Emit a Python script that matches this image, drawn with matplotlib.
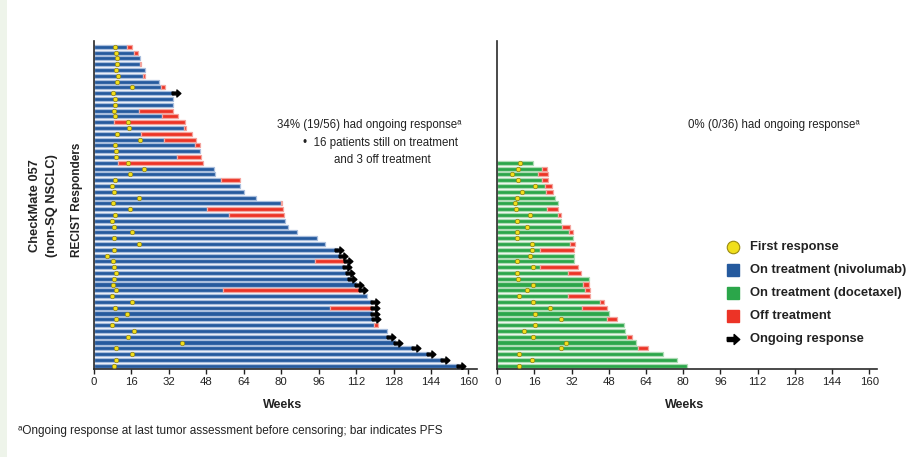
import matplotlib
matplotlib.use("Agg")
import matplotlib.pyplot as plt
from matplotlib.lines import Line2D
from matplotlib.patches import Rectangle

plt.rcParams["font.family"] = ["Liberation Sans", "DejaVu Sans"]

# Данные: ниволумаб (56 пациентов, сверху вниз)
nivo_on = [14.2, 17.1, 19.8, 19.6, 21.7, 20.8, 27.8, 28.8, 33.8, 33.6,
           33.6, 19.1, 29.1, 8.5, 38.5, 20.2, 29.9, 43.3, 45.4, 35.6,
           10.3, 51.3, 51.8, 54.3, 62.4, 64.1, 69.2, 79.9, 48.4, 57.8,
           81.6, 83.0, 86.6, 95.2, 98.9, 103.7, 105.1, 94.4, 106.8, 108.0,
           109.1, 112.0, 55.3, 116.5, 118.7, 100.9, 118.9, 119.4, 119.7, 125.1,
           125.8, 128.6, 136.5, 142.9, 148.6, 155.7]
nivo_end = [16.4, 18.8, 19.8, 20.0, 21.7, 22.0, 27.8, 30.4, 33.8, 33.6,
            33.6, 33.8, 35.9, 38.7, 39.4, 42.0, 43.7, 45.2, 45.4, 45.6,
            46.6, 51.3, 51.8, 62.4, 62.4, 64.1, 69.2, 80.5, 80.6, 81.2,
            81.6, 83.0, 86.6, 95.2, 98.9, 103.7, 105.1, 107.3, 106.8, 108.0,
            109.1, 112.0, 113.7, 116.5, 118.7, 118.7, 118.9, 119.4, 121.5, 125.1,
            125.8, 128.6, 136.5, 142.9, 148.6, 155.7]
nivo_first = [9.1, 9.4, 9.8, 9.8, 9.4, 10.3, 9.8, 16.2, 8.3, 9.1,
              9.1, 8.5, 8.8, 14.5, 15.1, 9.7, 19.5, 9.1, 9.4, 9.4,
              14.5, 21.2, 15.5, 9.0, 7.8, 8.7, 19.4, 8.3, 15.4, 9.1,
              7.8, 8.5, 16.4, 8.5, 19.1, 8.5, 5.4, 8.0, 8.5, 9.4,
              8.5, 8.3, 9.4, 7.5, 16.1, 9.0, 14.2, 9.4, 7.5, 17.1,
              14.7, 37.7, 9.4, 16.1, 9.4, 8.5]
nivo_ongoing = [0, 0, 0, 0, 0, 0, 0, 0, 1, 0,
                0, 0, 0, 0, 0, 0, 0, 0, 0, 0,
                0, 0, 0, 0, 0, 0, 0, 0, 0, 0,
                0, 0, 0, 0, 0, 1, 1, 1, 1, 1,
                1, 1, 1, 0, 1, 1, 1, 1, 0, 0,
                1, 1, 1, 1, 1, 1]

# Данные: доцетаксел (36 пациентов, сверху вниз)
doce_on = [15.2, 19.1, 17.3, 19.1, 20.5, 20.9, 24.8, 25.9, 21.2, 26.2,
           27.4, 27.7, 30.8, 32.7, 31.3, 18.4, 33.1, 33.1, 18.4, 30.5,
           39.4, 37.0, 37.7, 30.5, 44.2, 36.3, 48.0, 47.0, 54.6, 54.9,
           55.6, 59.6, 60.6, 71.4, 77.1, 81.6]
doce_end = [15.2, 21.2, 21.6, 21.9, 23.4, 24.1, 24.8, 25.9, 26.2, 27.4,
            27.4, 31.3, 32.4, 32.7, 33.4, 33.0, 33.1, 33.1, 34.6, 35.8,
            39.4, 39.6, 39.9, 39.9, 45.9, 47.0, 48.0, 51.3, 54.6, 54.9,
            57.8, 59.6, 64.7, 71.4, 77.1, 81.6]
doce_first = [9.7, 9.0, 6.2, 9.0, 16.2, 10.8, 8.3, 7.6, 7.9, 14.1,
              8.6, 12.6, 8.3, 8.3, 14.8, 14.8, 14.1, 8.6, 15.5, 8.3,
              9.0, 15.2, 12.6, 9.3, 15.5, 22.7, 16.2, 27.2, 16.2, 11.5,
              15.5, 29.5, 27.2, 9.3, 14.8, 9.3]

week_ticks = list(range(0, 161, 16))

BLUE = "#255a9e"
BLUE_EDGE = "#a9bedd"
GREEN = "#2ba64a"
GREEN_EDGE = "#aedcb5"
RED = "#ec3326"
RED_EDGE = "#f4a49d"
YELLOW = "#f0df1c"
TXT = "#222222"

arrow_verts = [(-1, -0.32), (0.1, -0.32), (0.1, -0.8), (1, 0), (0.1, 0.8),
               (0.1, 0.32), (-1, 0.32), (-1, -0.32)]

W, H = 912, 457
fig = plt.figure(figsize=(W / 100, H / 100), dpi=100)
fig.patch.set_facecolor("white")
fig.add_artist(Rectangle((0, 0), 7 / W, 1, transform=fig.transFigure,
                         facecolor="#eef4ea", edgecolor="none", zorder=0))

ybot = (H - 369) / H
yh = 328 / H
ax1 = fig.add_axes([94 / W, ybot, 382.6 / W, yh])
ax2 = fig.add_axes([497.3 / W, ybot, 380.1 / W, yh])


def draw_panel(ax, rows, on, end, first, color, edge, ongoing=None):
    bh = 0.7
    for k, r in enumerate(rows):
        ax.barh(r, on[k], height=bh, left=0, color=color, edgecolor=edge,
                linewidth=0.9, zorder=2)
        if end[k] > on[k]:
            ax.barh(r, end[k] - on[k], height=bh, left=on[k], color=RED,
                    edgecolor=RED_EDGE, linewidth=0.9, zorder=2)
        if ongoing is not None and ongoing[k]:
            ax.plot(end[k] + 1.2, r, marker=arrow_verts, markersize=6.3,
                    color="black", linestyle="none", zorder=4)
    ax.plot(first, rows, marker="o", markersize=3.2, color=YELLOW,
            markeredgecolor="#8f7f14", markeredgewidth=0.5,
            linestyle="none", zorder=3)
    ax.set_xlim(0, 163.5)
    ax.set_ylim(55.57, -1.0)
    ax.set_xticks(week_ticks)
    ax.set_yticks([])
    for s in ["top", "right"]:
        ax.spines[s].set_visible(False)
    for s in ["left", "bottom"]:
        ax.spines[s].set_linewidth(1.2)
        ax.spines[s].set_color("#2a2a2a")
    ax.tick_params(axis="x", length=3.5, width=1, pad=2.5, labelsize=8.2,
                   colors=TXT)
    ax.patch.set_alpha(0)


draw_panel(ax1, list(range(56)), nivo_on, nivo_end, nivo_first,
           BLUE, BLUE_EDGE, nivo_ongoing)
draw_panel(ax2, list(range(20, 56)), doce_on, doce_end, doce_first,
           GREEN, GREEN_EDGE)


def fx(px):
    return px / W


def fy(py):
    return 1 - py / H


# Подписи осей
fig.text(fx(283), fy(405), "Weeks", ha="center", va="center",
         fontsize=9, fontweight="bold", color=TXT)
fig.text(fx(685), fy(405), "Weeks", ha="center", va="center",
         fontsize=9, fontweight="bold", color=TXT)
fig.text(fx(35), fy(206), "CheckMate 057", rotation=90, ha="center",
         va="center", fontsize=9.3, fontweight="bold", color=TXT)
fig.text(fx(52), fy(206), "(non-SQ NSCLC)", rotation=90, ha="center",
         va="center", fontsize=9.3, fontweight="bold", color=TXT)
fig.text(fx(77), fy(200), "RECIST Responders", rotation=90, ha="center",
         va="center", fontsize=8.5, fontweight="bold", color=TXT)

# Аннотации
fig.text(fx(369), fy(125), "34% (19/56) had ongoing response\u1d43",
         ha="center", va="center", fontsize=8.3, color=TXT)
fig.text(fx(303), fy(143), "\u2022  16 patients still on treatment",
         ha="left", va="center", fontsize=8.3, color=TXT)
fig.text(fx(382), fy(160), "and 3 off treatment",
         ha="center", va="center", fontsize=8.3, color=TXT)
fig.text(fx(774), fy(125), "0% (0/36) had ongoing response\u1d43",
         ha="center", va="center", fontsize=8.3, color=TXT)
fig.text(fx(18), fy(431),
         "\u1d43Ongoing response at last tumor assessment before censoring; "
         "bar indicates PFS",
         ha="left", va="center", fontsize=8.5, color=TXT)

# Легенда
legend_items = [
    ("First response", dict(marker="o", markersize=9, color=YELLOW,
                            markeredgecolor="#9a8a10", markeredgewidth=0.8)),
    ("On treatment (nivolumab)", dict(marker="s", markersize=8, color=BLUE,
                                      markeredgecolor=BLUE)),
    ("On treatment (docetaxel)", dict(marker="s", markersize=8, color=GREEN,
                                      markeredgecolor=GREEN)),
    ("Off treatment", dict(marker="s", markersize=8, color=RED,
                           markeredgecolor=RED)),
    ("Ongoing response", dict(marker=arrow_verts, markersize=9,
                              color="black")),
]
for n, (label, style) in enumerate(legend_items):
    py = 247 + 23 * n
    fig.add_artist(Line2D([fx(733)], [fy(py)], transform=fig.transFigure,
                          linestyle="none", **style))
    fig.text(fx(750), fy(py), label, ha="left", va="center", fontsize=9.3,
             fontweight="bold", color=TXT)

fig.savefig("out.png", dpi=100, facecolor=fig.get_facecolor())
